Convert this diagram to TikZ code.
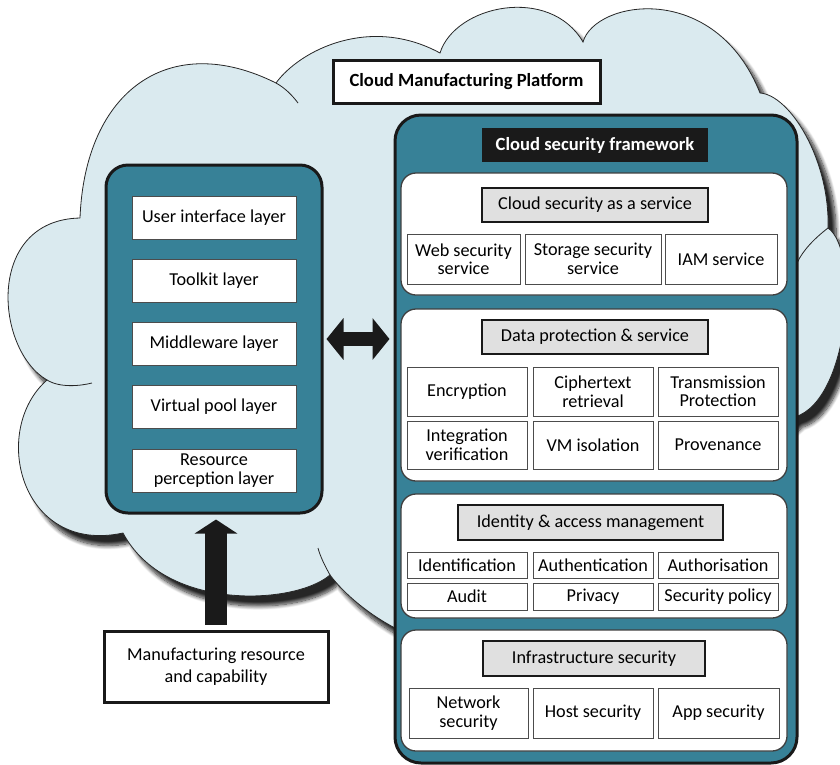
\documentclass[tikz,border=0pt]{standalone}
\usepackage{fontspec}
\setmainfont{Carlito}
\usetikzlibrary{arrows.meta,shadows.blur}

\definecolor{cloudblue}{RGB}{218,234,239}
\definecolor{teal}{RGB}{55,129,151}
\definecolor{hdrgray}{RGB}{224,224,224}
\definecolor{arrowblack}{RGB}{26,26,26}

\newcommand\boxfont{\fontsize{18.2}{18.5}\selectfont}
\newcommand\titlefont{\fontsize{18.6}{18.6}\selectfont\bfseries}

\tikzset{
  cloudshape/.style={fill=cloudblue,
    blur shadow={shadow xshift=8pt, shadow yshift=-10pt, shadow blur radius=4pt,
                 shadow blur steps=10, shadow opacity=85}},
  cloudline/.style={draw=black!85, line width=0.8pt},
  titlebox/.style={draw=black!90, line width=3pt, fill=white, inner sep=0pt,
    align=center, font=\titlefont},
  tealbox/.style={draw=black!90, line width=3pt, fill=teal, inner sep=0pt},
  layerbox/.style={draw=black!70, line width=1pt, fill=white, inner sep=0pt,
    align=center, font=\boxfont, minimum width=164pt, minimum height=43pt},
  secbox/.style={draw=black!75, line width=1.3pt, fill=white, rounded corners=15pt,
    inner sep=0pt, minimum width=386pt},
  hdrbox/.style={draw=black!90, line width=2pt, fill=hdrgray, inner sep=0pt,
    align=center, font=\boxfont, minimum height=34pt},
  subbox/.style={draw=black!70, line width=1pt, fill=white, inner sep=0pt,
    align=center, font=\boxfont}
}

\begin{document}
\begin{tikzpicture}[x=1pt, y=-1pt]
\useasboundingbox (0,0) rectangle (840,764);

% cloud body with soft shadow
\path[cloudshape] (80,218)
  .. controls (85,90) and (170,30) .. (276,83)
  .. controls (300,50) and (370,15) .. (440,53)
  .. controls (455,5) and (550,-15) .. (583,42)
  .. controls (595,0) and (715,-20) .. (760,93)
  .. controls (790,95) and (830,160) .. (828,228)
  .. controls (860,250) and (850,400) .. (795,417)
  -- (780,430) -- (760,700) -- (450,690) -- (395,628)
  .. controls (370,615) and (345,595) .. (330,575)
  .. controls (295,605) and (165,612) .. (123,533)
  .. controls (20,555) and (-10,430) .. (47,380)
  .. controls (-5,350) and (-15,220) .. (80,218) -- cycle;
% cloud outline and the inner ends of its lobes
\draw[cloudline] (80,218)
  .. controls (85,90) and (170,30) .. (276,83)
  .. controls (300,50) and (370,15) .. (440,53)
  .. controls (455,5) and (550,-15) .. (583,42)
  .. controls (595,0) and (715,-20) .. (760,93)
  .. controls (790,95) and (830,160) .. (828,228)
  .. controls (860,250) and (850,400) .. (795,417);
\draw[cloudline] (395,628)
  .. controls (370,615) and (345,595) .. (330,575)
  .. controls (295,605) and (165,612) .. (123,533)
  .. controls (20,555) and (-10,430) .. (47,380)
  .. controls (-5,350) and (-15,220) .. (80,218);
\draw[cloudline] (276,83) .. controls (285,88) and (292,95) .. (298,103);
\draw[cloudline] (47,380) .. controls (60,388) and (80,386) .. (92,383);
\draw[cloudline] (828,228) .. controls (815,238) and (803,250) .. (797,263);
\draw[cloudline] (330,575) .. controls (325,566) and (320,556) .. (318,548);

% platform title
\node[titlebox, minimum width=267pt, minimum height=43pt] (platform) at (466.5,81.5)
  {Cloud Manufacturing Platform};

% manufacturing layers
\node[tealbox, rounded corners=22pt, minimum width=216pt, minimum height=348pt]
  (layers) at (214,339) {};
\node[layerbox] (ui)   at (214,217.5) {User interface layer};
\node[layerbox] (tool) at (214,280.5) {Toolkit layer};
\node[layerbox] (mid)  at (214,344)   {Middleware layer};
\node[layerbox] (pool) at (214,407)   {Virtual pool layer};
\node[layerbox] (perc) at (214,470.5) {Resource\\perception layer};

% resources feeding the platform
\node[titlebox, font=\fontsize{18.2}{22}\selectfont, minimum width=224pt, minimum height=71pt]
  (resource) at (216,666.5) {Manufacturing resource\\and capability};

% security framework
\node[tealbox, rounded corners=26pt, minimum width=402pt, minimum height=648pt]
  (framework) at (596,439) {};
\node[fill=arrowblack, text=white, font=\titlefont, inner sep=0pt,
  minimum width=226pt, minimum height=34pt] (fwtitle) at (595,145)
  {Cloud security framework};

% cloud security as a service
\node[secbox, minimum height=122pt] (sec1) at (594,234) {};
\node[hdrbox, minimum width=226pt] (h1) at (595,205) {Cloud security as a service};
\node[subbox, minimum width=113pt, minimum height=50pt] (web) at (463.5,259) {Web security\\service};
\node[subbox, minimum width=136pt, minimum height=50pt] (stor) at (593,259) {Storage security\\service};
\node[subbox, minimum width=112pt, minimum height=50pt] (iam) at (721,259) {IAM service};

% data protection
\node[secbox, minimum height=172pt] (sec2) at (594,395) {};
\node[hdrbox, minimum width=226pt] (h2) at (595,337) {Data protection \& service};
\node[subbox, minimum width=120pt, minimum height=49pt] (enc) at (467,391.5) {Encryption};
\node[subbox, minimum width=120pt, minimum height=49pt] (cipher) at (593,391.5) {Ciphertext\\retrieval};
\node[subbox, minimum width=120pt, minimum height=49pt] (trans) at (718,391.5) {Transmission\\Protection};
\node[subbox, minimum width=120pt, minimum height=48pt] (integ) at (467,445) {Integration\\verification};
\node[subbox, minimum width=120pt, minimum height=48pt] (vm) at (593,445) {VM isolation};
\node[subbox, minimum width=120pt, minimum height=48pt] (prov) at (718,445) {Provenance};

% identity and access management
\node[secbox, minimum height=124pt] (sec3) at (594,556) {};
\node[hdrbox, minimum width=265pt, minimum height=35pt] (h3) at (590.5,522.5) {Identity \& access management};
\node[subbox, minimum width=120pt, minimum height=26pt] (ident) at (467,565) {Identification};
\node[subbox, minimum width=120pt, minimum height=26pt] (authn) at (593,565) {Authentication};
\node[subbox, minimum width=120pt, minimum height=26pt] (authz) at (718,565) {Authorisation};
\node[subbox, minimum width=120pt, minimum height=27pt] (audit) at (467,596.5) {Audit};
\node[subbox, minimum width=120pt, minimum height=27pt] (priv) at (593,596.5) {Privacy};
\node[subbox, minimum width=120pt, minimum height=27pt] (policy) at (718,596.5) {Security policy};

% infrastructure security
\node[secbox, minimum height=121pt] (sec4) at (594,690.5) {};
\node[hdrbox, minimum width=222pt, minimum height=35pt] (h4) at (594,658.5) {Infrastructure security};
\node[subbox, minimum width=119pt, minimum height=50pt] (net) at (468.5,713) {Network\\security};
\node[subbox, minimum width=120pt, minimum height=50pt] (host) at (593,713) {Host security};
\node[subbox, minimum width=121pt, minimum height=50pt] (app) at (718.5,713) {App security};

% block arrows
\draw[arrowblack, line width=14pt,
  {Triangle[width=41pt,length=17pt]}-{Triangle[width=41pt,length=17pt]}]
  ([xshift=3pt]layers.east) -- ([xshift=-4pt]layers.east -| framework.west);
\draw[arrowblack, line width=22pt, -{Triangle[width=42pt,length=14pt]}]
  ([yshift=5pt]resource.north) -- ([yshift=-5pt]resource.north |- layers.south);
\end{tikzpicture}
\end{document}
